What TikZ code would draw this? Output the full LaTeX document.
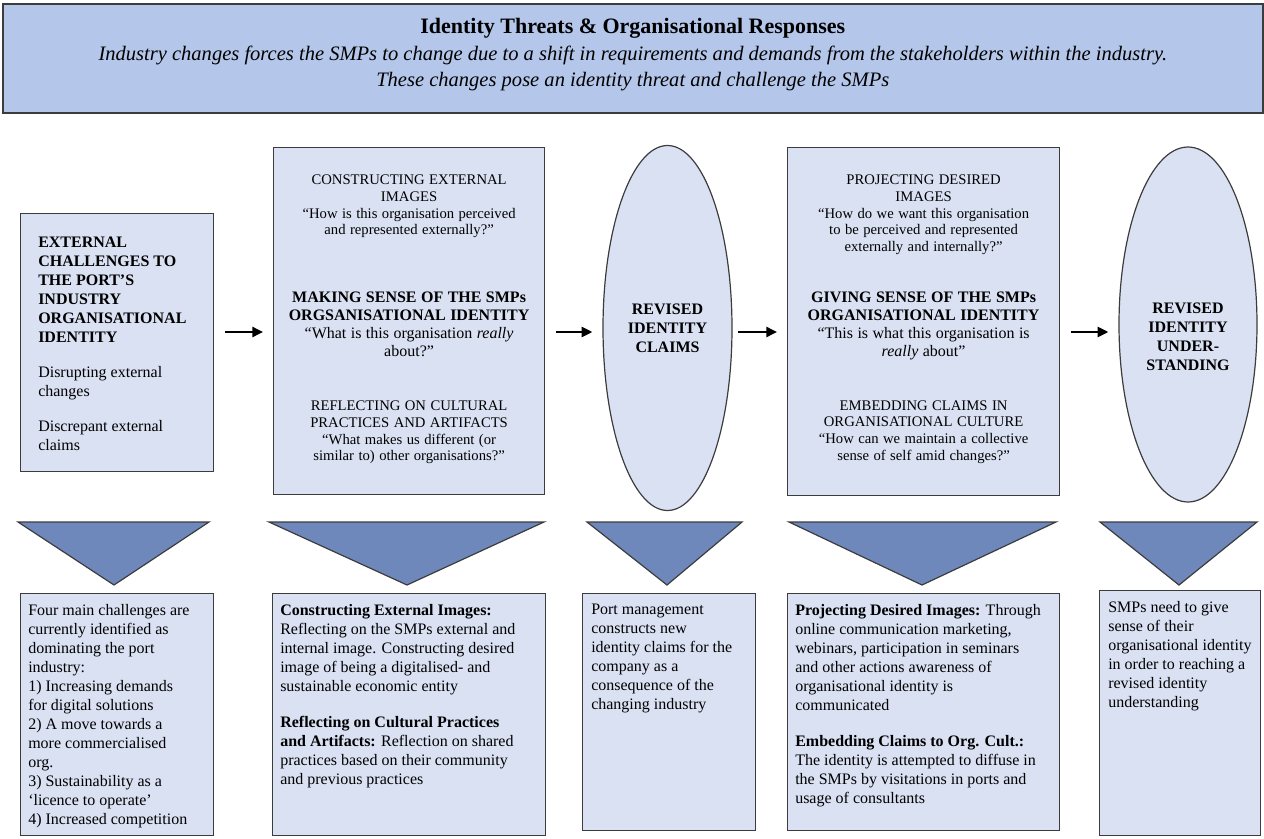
\documentclass[tikz,border=0pt]{standalone}
\usepackage{fontspec}
\setmainfont{Liberation Serif}
\usetikzlibrary{shapes.geometric,arrows.meta}

\definecolor{headblue}{HTML}{B4C6E9}
\definecolor{paleblue}{HTML}{D9E1F3}
\definecolor{triblue}{HTML}{6F88BC}
\definecolor{edgegrey}{HTML}{3C3C3C}

\tikzset{
  panel/.style={draw=edgegrey, fill=paleblue, line width=0.9pt, inner sep=0pt, anchor=north west},
  oval/.style={ellipse, draw=edgegrey, fill=paleblue, line width=0.9pt, inner sep=0pt},
  tri/.style={draw=edgegrey, fill=triblue, line width=0.9pt},
  flow/.style={line width=1.8pt, -{Triangle[length=8pt,width=7.5pt]}, shorten <=8pt, shorten >=7.5pt},
  txt/.style={inner sep=0pt, anchor=north west, align=left, font=\fontsize{12}{14.25}\selectfont},
  midtxt/.style={inner sep=0pt, anchor=north, align=center},
}

\newcommand{\smalltxt}{\fontsize{11}{12.5}\selectfont}
\newcommand{\keytxt}{\fontsize{12}{13.5}\selectfont}

\begin{document}
\begin{tikzpicture}[x=0.75pt,y=-0.75pt]
\useasboundingbox (0,0) rectangle (1264,839);

% header
\node[panel, fill=headblue, line width=1.2pt, minimum width=1260*0.75pt, minimum height=109*0.75pt] (head) at (2,3) {};
\node[midtxt, font=\fontsize{15.4}{20}\selectfont] (headtxt) at ([shift={(0,15)}]head.north)
  {{\fontsize{16.5}{20}\selectfont\bfseries Identity Threats \& Organisational Responses}\\
   \textit{Industry changes forces the SMPs to change due to a shift in requirements and demands from the stakeholders within the industry.}\\
   \textit{These changes pose an identity threat and challenge the SMPs}};

\coordinate (mid) at (0,332);

% top row
\node[panel, minimum width=193*0.75pt, minimum height=258*0.75pt] (chal) at (20,213) {};
\node[txt] (chaltxt) at ([shift={(18,24)}]chal.north west)
  {\textbf{EXTERNAL}\\\textbf{CHALLENGES TO}\\\textbf{THE PORT’S}\\\textbf{INDUSTRY}\\\textbf{ORGANISATIONAL}\\\textbf{IDENTITY}\\[12pt]
   Disrupting external\\changes\\[12pt]
   Discrepant external\\claims};

\node[panel, minimum width=271*0.75pt, minimum height=347*0.75pt] (sense) at (273,147) {};
\node[midtxt, text width=262*0.75pt] (sensetxt) at ([shift={(0,28)}]sense.north)
  {{\smalltxt CONSTRUCTING EXTERNAL\\IMAGES\\“How is this organisation perceived\\and represented externally?”\par}
   \vspace{37.5pt}
   {\keytxt{\bfseries MAKING SENSE OF THE SMPs\\ORGSANISATIONAL IDENTITY}\\“What is this organisation \textit{really}\\about?”\par}
   \vspace{28pt}
   {\smalltxt REFLECTING ON CULTURAL\\PRACTICES AND ARTIFACTS\\“What makes us different (or\\similar to) other organisations?”\par}};

\node[oval, minimum width=129*0.75pt, minimum height=365*0.75pt, align=center,
  font=\fontsize{12}{14.25}\selectfont\bfseries] (claims) at (667.5,328) {REVISED\\IDENTITY\\CLAIMS};

\node[panel, minimum width=272*0.75pt, minimum height=348*0.75pt] (give) at (787,147) {};
\node[midtxt, text width=262*0.75pt] (givetxt) at ([shift={(0,28)}]give.north)
  {{\smalltxt PROJECTING DESIRED\\IMAGES\\“How do we want this organisation\\to be perceived and represented\\externally and internally?”\par}
   \vspace{24.5pt}
   {\keytxt{\bfseries GIVING SENSE OF THE SMPs\\ORGANISATIONAL IDENTITY}\\“This is what this organisation is\\\textit{really} about”\par}
   \vspace{28pt}
   {\smalltxt EMBEDDING CLAIMS IN\\ORGANISATIONAL CULTURE\\“How can we maintain a collective\\sense of self amid changes?”\par}};

\node[oval, minimum width=138*0.75pt, minimum height=355*0.75pt] (und) at (1188,324.5) {};
\node[midtxt, anchor=center, font=\fontsize{12}{14.25}\selectfont\bfseries] (undtxt) at ([shift={(0,12)}]und.center)
  {REVISED\\IDENTITY\\UNDER-\\STANDING};

% arrows
\draw[flow] (chal.east |- mid) -- (sense.west |- mid);
\draw[flow] (sense.east |- mid) -- (claims.west |- mid);
\draw[flow, shorten <=4pt] (claims.east |- mid) -- (give.west |- mid);
\draw[flow] (give.east |- mid) -- (und.west |- mid);

% triangles
\filldraw[tri] (18,522) -- (209,522) -- (114,585) -- cycle;
\filldraw[tri] (269,522) -- (544,522) -- (407,585) -- cycle;
\filldraw[tri] (587,522) -- (742,522) -- (667,585) -- cycle;
\filldraw[tri] (789,522) -- (1056,522) -- (922,585) -- cycle;
\filldraw[tri] (1100,522) -- (1257,522) -- (1179,585) -- cycle;

% bottom row
\node[panel, minimum width=193*0.75pt, minimum height=242*0.75pt] (chalnote) at (20,593) {};
\node[txt] (chalnotetxt) at ([shift={(8,11)}]chalnote.north west)
  {Four main challenges are\\currently identified as\\dominating the port\\industry:\\1) Increasing demands\\for digital solutions\\2) A move towards a\\more commercialised\\org.\\3) Sustainability as a\\‘licence to operate’\\4) Increased competition};

\node[panel, minimum width=273*0.75pt, minimum height=242*0.75pt] (sensenote) at (272,593) {};
\node[txt] (sensenotetxt) at ([shift={(8,11)}]sensenote.north west)
  {\textbf{Constructing External Images:}\\Reflecting on the SMPs external and\\internal image. Constructing desired\\image of being a digitalised- and\\sustainable economic entity\\[13pt]
   \textbf{Reflecting on Cultural Practices}\\\textbf{and Artifacts:} Reflection on shared\\practices based on their community\\and previous practices};

\node[panel, minimum width=173*0.75pt, minimum height=237*0.75pt] (claimsnote) at (582,593) {};
\node[txt] (claimsnotetxt) at ([shift={(9,11)}]claimsnote.north west)
  {Port management\\constructs new\\identity claims for the\\company as a\\consequence of the\\changing industry};

\node[panel, minimum width=272*0.75pt, minimum height=237*0.75pt] (givenote) at (787,593) {};
\node[txt] (givenotetxt) at ([shift={(8,11)}]givenote.north west)
  {\textbf{Projecting Desired Images:} Through\\online communication marketing,\\webinars, participation in seminars\\and other actions awareness of\\organisational identity is\\communicated\\[13pt]
   \textbf{Embedding Claims to Org. Cult.:}\\The identity is attempted to diffuse in\\the SMPs by visitations in ports and\\usage of consultants};

\node[panel, minimum width=161*0.75pt, minimum height=245*0.75pt] (undnote) at (1099,590) {};
\node[txt] (undnotetxt) at ([shift={(9,11)}]undnote.north west)
  {SMPs need to give\\sense of their\\organisational identity\\in order to reaching a\\revised identity\\understanding};
\end{tikzpicture}
\end{document}
